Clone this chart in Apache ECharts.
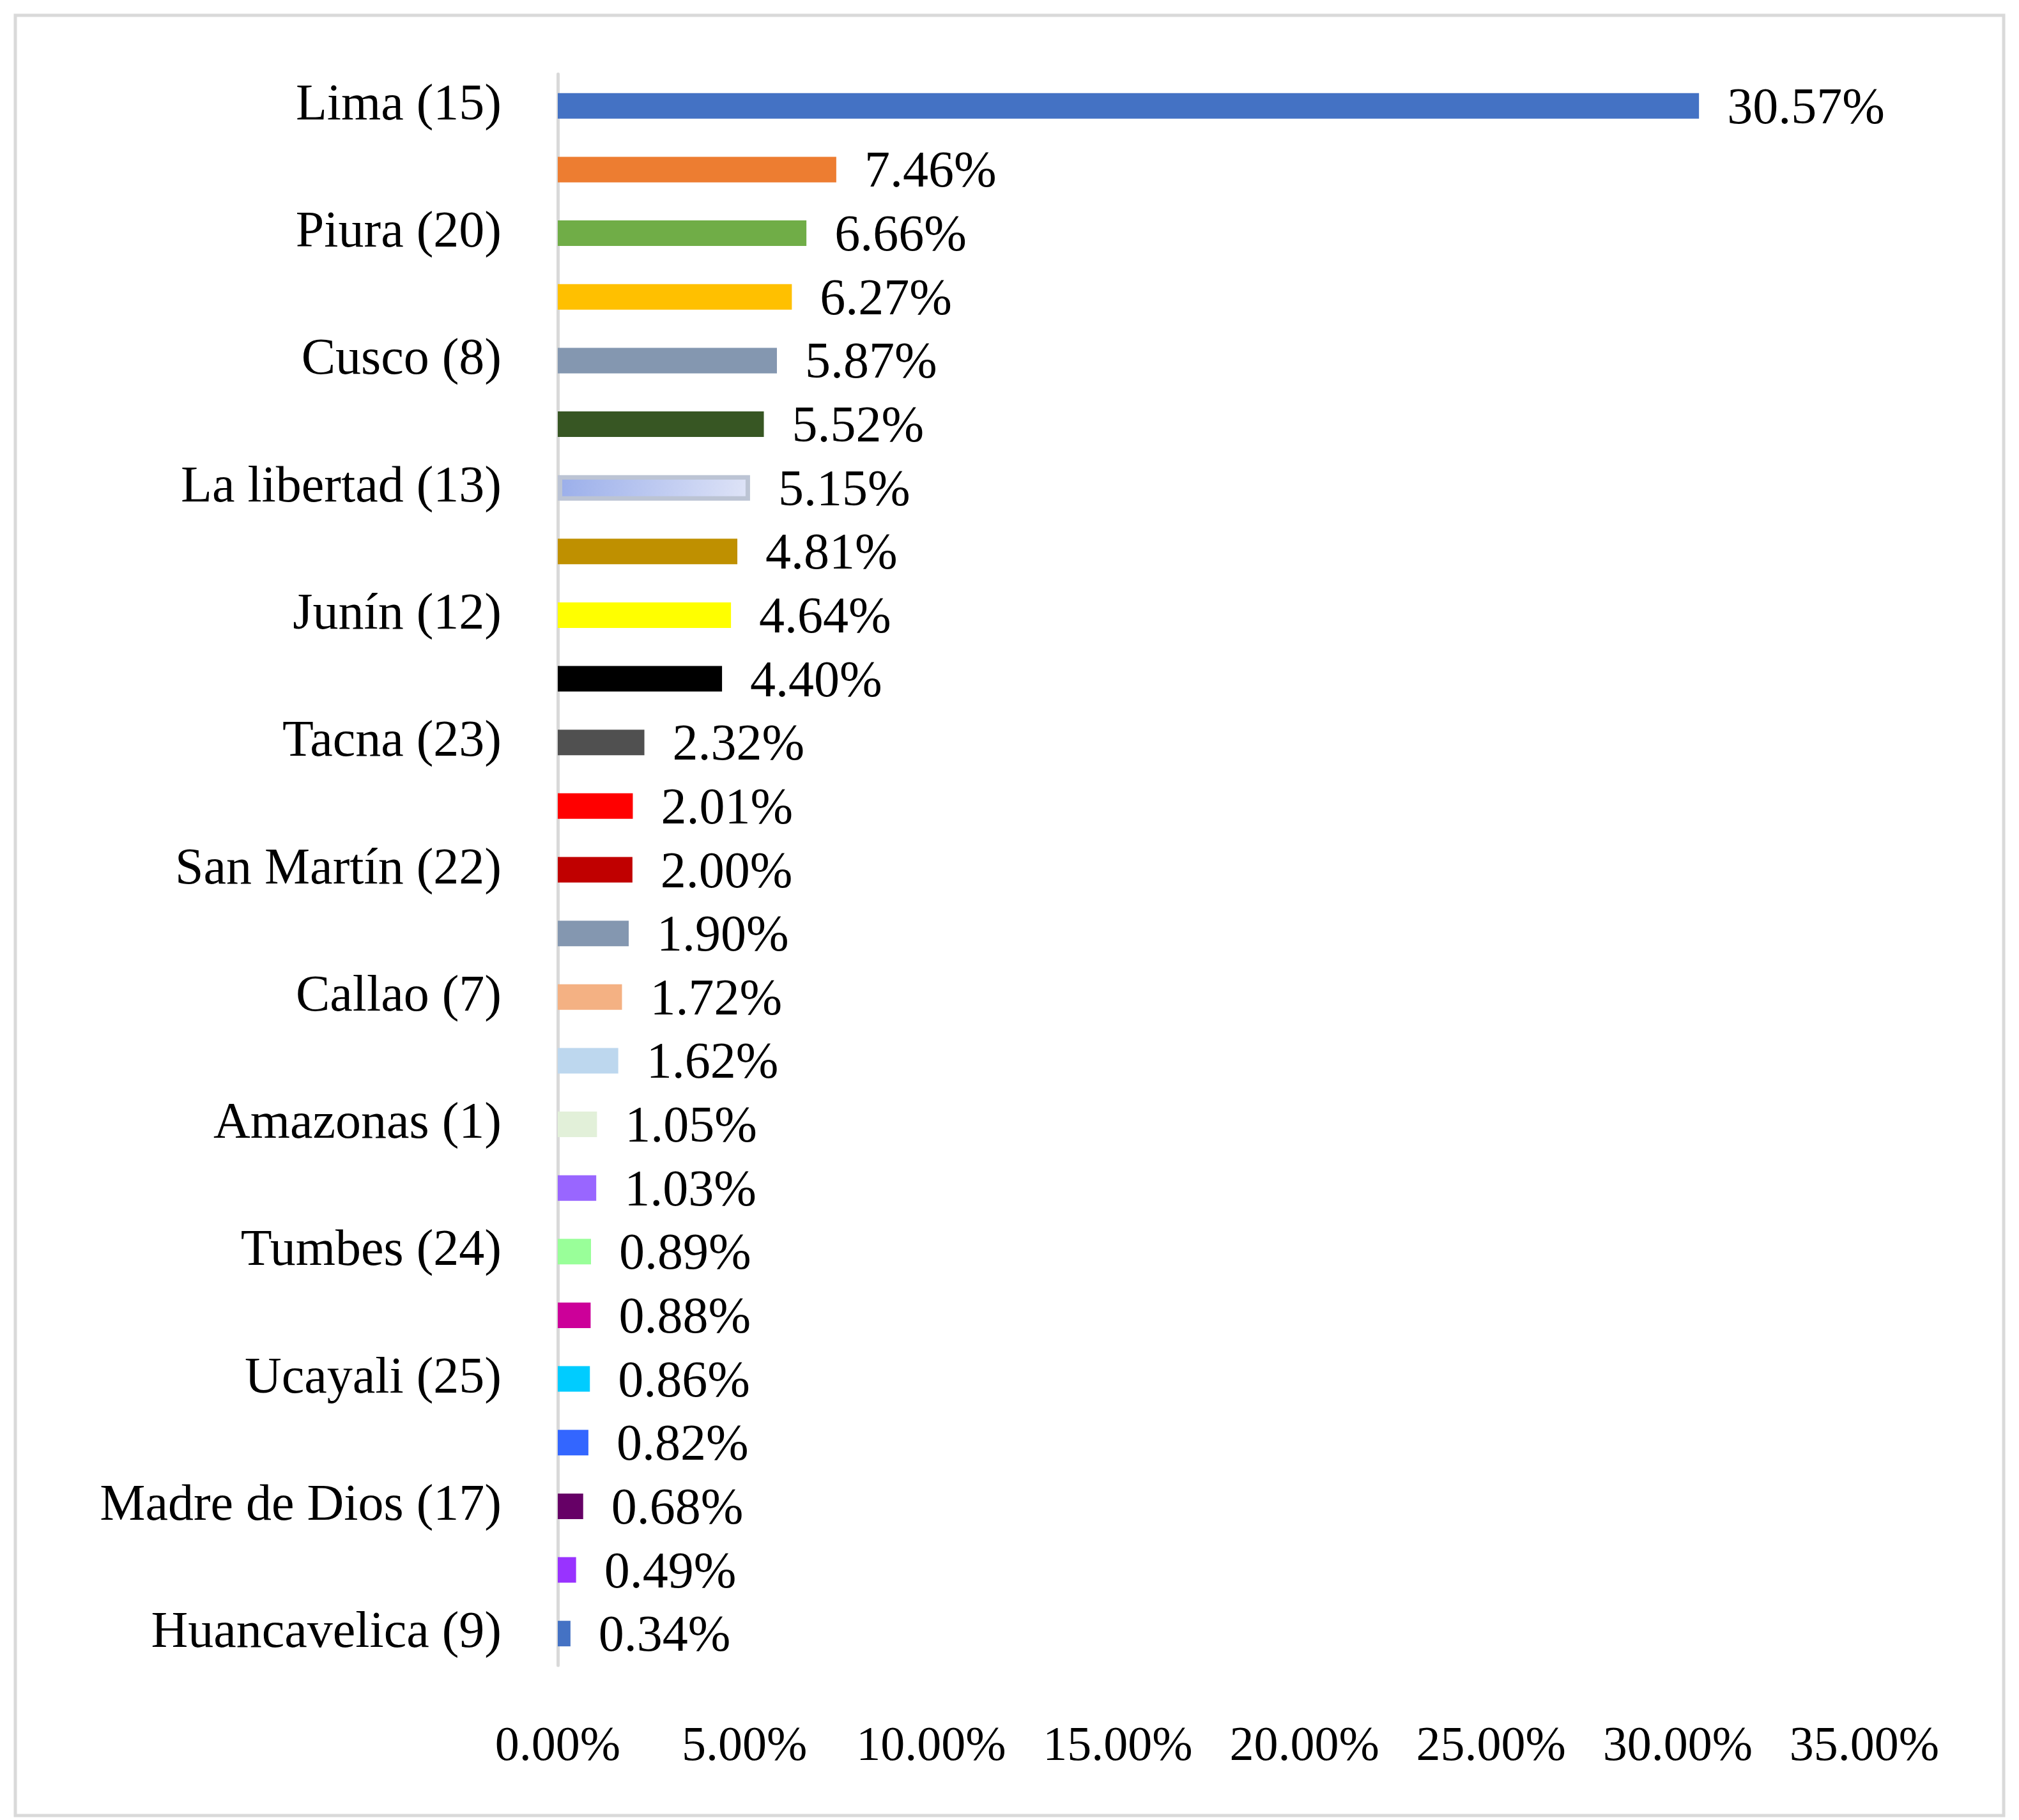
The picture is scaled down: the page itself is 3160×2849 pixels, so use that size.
<!DOCTYPE html>
<html>
<head>
<meta charset="utf-8">
<script src="https://cdn.jsdelivr.net/npm/echarts@6/dist/echarts.min.js"></script>
<style>html,body{margin:0;padding:0;background:#fff}#chart{width:3160px;height:2849px}</style>
</head>
<body>
<div id="chart"></div>
<script>
// categories top to bottom; every other name is hidden like the original
const regions = ["Lima (15)", "Arequipa (4)", "Piura (20)", "Lambayeque (14)", "Cusco (8)",
    "Ancash (2)", "La libertad (13)", "Cajamarca (6)", "Junín (12)", "Puno (21)",
    "Tacna (23)", "Ica (11)", "San Martín (22)", "Loreto (16)", "Callao (7)",
    "Huánuco (10)", "Amazonas (1)", "Ayacucho (5)", "Tumbes (24)", "Apurímac (3)",
    "Ucayali (25)", "Moquegua (18)", "Madre de Dios (17)", "Pasco (19)", "Huancavelica (9)"];
const shares = [30.57, 7.46, 6.66, 6.27, 5.87, 5.52, 5.15, 4.81, 4.64, 4.40, 2.32, 2.01, 2.00,
    1.90, 1.72, 1.62, 1.05, 1.03, 0.89, 0.88, 0.86, 0.82, 0.68, 0.49, 0.34];
const barColors = ["#4472c4", "#ed7d31", "#70ad47", "#ffc000", "#8497b0", "#375623", "libertad",
    "#bf9000", "#ffff00", "#000000", "#505050", "#ff0000", "#c00000", "#8497b0", "#f4b183",
    "#bdd7ee", "#e2f0d9", "#9966ff", "#99ff99", "#cc0099", "#00ccff", "#3366ff", "#660066",
    "#9933ff", "#4472c4"];
const xTicks = [0, 5, 10, 15, 20, 25, 30, 35];

const font = "'Liberation Serif', 'DejaVu Serif', serif";
const chart = echarts.init(document.getElementById("chart"));

const data = shares.map((v, i) => {
    const c = barColors[i];
    if (c === "libertad") {
        return {
            value: v,
            itemStyle: {
                color: new echarts.graphic.LinearGradient(0, 0, 1, 1, [
                    { offset: 0, color: "#9aaeea" }, { offset: 1, color: "#dfe4f7" }
                ]),
                borderColor: "#bcc4d4", borderWidth: 7
            }
        };
    }
    return { value: v, itemStyle: { color: c } };
});

chart.setOption({
    animation: false,
    graphic: [{
        type: "rect", shape: { x: 24, y: 24, width: 3112, height: 2818 },
        style: { fill: "none", stroke: "#d9d9d9", lineWidth: 5 }
    }],
    grid: { left: 873, right: 242, top: 116, bottom: 242 },
    xAxis: {
        type: "value", min: 0, max: 35, interval: 5,
        axisLine: { show: false }, axisTick: { show: false }, splitLine: { show: false },
        axisLabel: {
            fontFamily: font, fontSize: 76, color: "#000", margin: 90,
            formatter: v => xTicks.includes(v) ? v.toFixed(2) + "%" : ""
        }
    },
    yAxis: {
        type: "category", data: regions, inverse: true,
        axisLine: { lineStyle: { color: "#d9d9d9", width: 5 } },
        axisTick: { show: false },
        axisLabel: {
            fontFamily: font, fontSize: 80, color: "#000", margin: 88,
            interval: (i) => i % 2 === 0
        }
    },
    series: [{
        type: "bar", data: data, barWidth: 40,
        label: {
            show: true, position: "right", distance: 44,
            fontFamily: font, fontSize: 80, color: "#000",
            offset: [0, 6],
            formatter: p => p.value.toFixed(2) + "%"
        }
    }]
});
</script>
</body>
</html>
